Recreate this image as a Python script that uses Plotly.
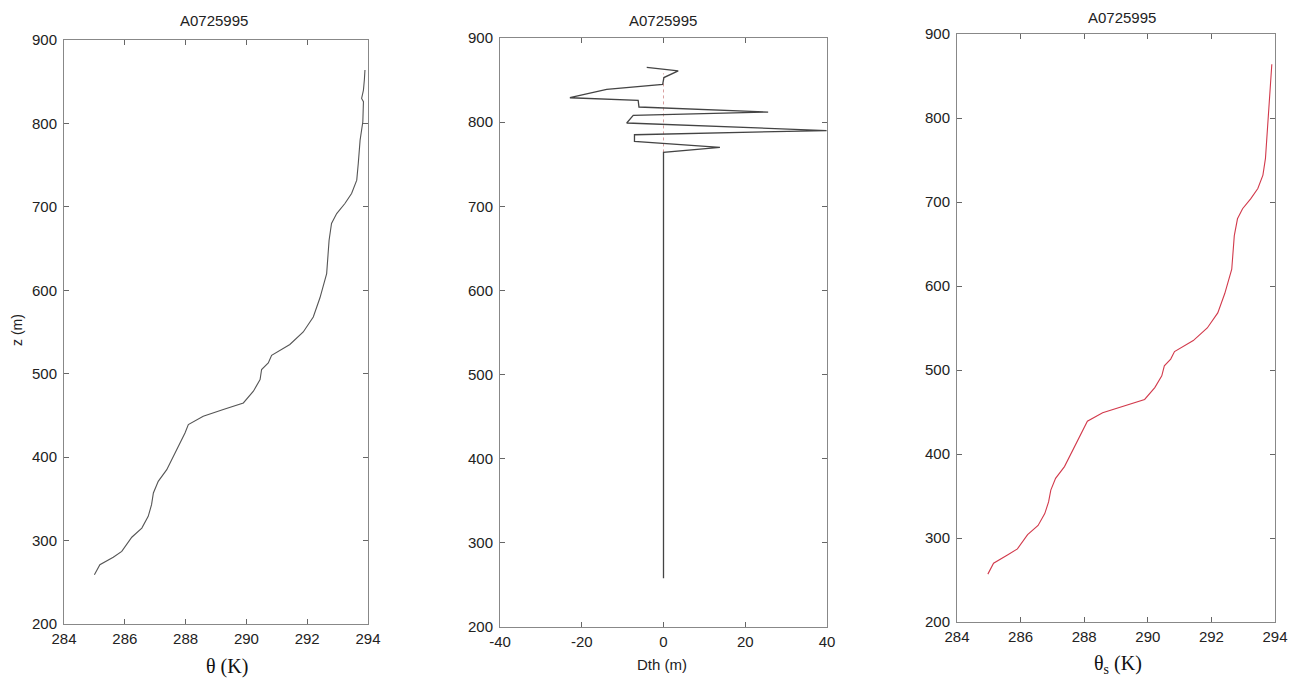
import plotly.graph_objects as go

# ---- data ----
title_text = "A0725995"

theta_K = [285.0, 285.18, 285.62, 285.9, 286.23, 286.56, 286.77, 286.88, 286.94, 287.1,
           287.38, 287.71, 287.98, 288.09, 288.58, 289.24, 289.9, 290.23, 290.45, 290.5,
           290.72, 290.83, 291.1, 291.43, 291.87, 292.2, 292.42, 292.64, 292.72, 292.8,
           292.97, 293.24, 293.46, 293.63, 293.68, 293.74, 293.83, 293.85, 293.79, 293.85,
           293.88, 293.9]
theta_z = [259, 271, 280, 287, 304, 315, 329, 343, 357, 371,
           385, 409, 429, 439, 449, 457, 465, 479, 493, 505,
           513, 522, 528, 535, 550, 568, 591, 620, 660, 680,
           692, 704, 716, 732, 752, 780, 802, 826, 830, 840,
           852, 864]

dth_m = [-4.1, 3.6, 0.1, -0.2, -13.9, -22.9, -6.2, -6.0, 25.6, -7.4,
         -9.0, 39.9, -7.1, -7.1, 13.8, 0.0, 0.0]
dth_z = [865, 861, 853, 845, 839, 829, 826, 818, 812, 808,
         799, 790, 785, 777, 770, 764, 258]
ref_x = [0, 0]
ref_z = [764, 858]

thetas_K = [284.97, 285.15, 285.6, 285.9, 286.22, 286.55, 286.76, 286.88, 286.95, 287.1,
            287.38, 287.71, 287.98, 288.1, 288.58, 289.24, 289.9, 290.22, 290.44, 290.52,
            290.72, 290.84, 291.1, 291.43, 291.87, 292.2, 292.42, 292.64, 292.72, 292.82,
            292.98, 293.24, 293.46, 293.62, 293.7, 293.75, 293.8, 293.85, 293.9]
thetas_z = [257, 270, 280, 287, 304, 315, 329, 343, 357, 371,
            385, 409, 429, 439, 449, 457, 465, 479, 493, 505,
            513, 522, 528, 535, 550, 568, 591, 620, 660, 680,
            692, 704, 716, 732, 752, 780, 805, 835, 864]

x_ticks_theta = [284, 286, 288, 290, 292, 294]
x_ticks_dth = [-40, -20, 0, 20, 40]
x_ticklabels_dth = ["-40", "-20", "0", "20", "40"]
z_ticks = [200, 300, 400, 500, 600, 700, 800, 900]

# page body has an 8px margin; figure is sized to fit inside it
OFF = 8
W, H = 1298 - 2 * OFF, 688 - 2 * OFF

def px(x):
    return (x - OFF) / W

def py(y):
    return 1 - (y - OFF) / H

def dx(a, b):
    return [px(a), px(b)]

def dy(top, bot):
    return [py(bot), py(top)]

fig = go.Figure()
fig.add_trace(go.Scatter(x=theta_K, y=theta_z, mode="lines",
                         line=dict(color="#555555", width=1.1),
                         xaxis="x", yaxis="y", showlegend=False))
fig.add_trace(go.Scatter(x=ref_x, y=ref_z, mode="lines",
                         line=dict(color="#d9a0a0", width=1, dash="dot"),
                         xaxis="x2", yaxis="y2", showlegend=False))
fig.add_trace(go.Scatter(x=dth_m, y=dth_z, mode="lines",
                         line=dict(color="#444444", width=1.3),
                         xaxis="x2", yaxis="y2", showlegend=False))
fig.add_trace(go.Scatter(x=thetas_K, y=thetas_z, mode="lines",
                         line=dict(color="#d23a4c", width=1.1),
                         xaxis="x3", yaxis="y3", showlegend=False))

tickfont = dict(family="Arial, Liberation Sans, sans-serif", size=15, color="#222222")
common = dict(showgrid=False, zeroline=False, showline=True, linecolor="#888888",
              linewidth=1, mirror="ticks", ticks="inside", ticklen=5,
              tickcolor="#666666", tickfont=tickfont, automargin=False)

fig.update_layout(
    width=W, height=H, margin=dict(l=0, r=0, t=0, b=0, autoexpand=False),
    paper_bgcolor="white", plot_bgcolor="white",
    xaxis=dict(domain=dx(64, 368), range=[284, 294], tickvals=x_ticks_theta,
               anchor="y", ticklabelstandoff=1, **common),
    yaxis=dict(domain=dy(40, 624), range=[200, 900], tickvals=z_ticks,
               anchor="x", ticklabelstandoff=3, **common),
    xaxis2=dict(domain=dx(500, 827), range=[-40, 40], tickvals=x_ticks_dth,
                ticktext=x_ticklabels_dth,
                anchor="y2", ticklabelstandoff=1, **common),
    yaxis2=dict(domain=dy(38, 627), range=[200, 900], tickvals=z_ticks,
                anchor="x2", ticklabelstandoff=3, **common),
    xaxis3=dict(domain=dx(957, 1275), range=[284, 294], tickvals=x_ticks_theta,
                anchor="y3", ticklabelstandoff=1, **common),
    yaxis3=dict(domain=dy(34, 622), range=[200, 900], tickvals=z_ticks,
                anchor="x3", ticklabelstandoff=3, **common),
)

titlefont = dict(family="Arial, Liberation Sans, sans-serif", size=15, color="#222222")
serif = dict(family="Liberation Serif, Times New Roman, serif", size=20, color="#111111")

def ann(text, x, y, font, angle=0):
    fig.add_annotation(text=text, x=px(x), y=py(y), xref="paper", yref="paper",
                       showarrow=False, font=font, textangle=angle,
                       xanchor="center", yanchor="middle")

ann(title_text, 214, 20, titlefont)
ann(title_text, 663, 20, titlefont)
ann(title_text, 1122, 18, titlefont)
ann("z (m)", 17, 330, dict(family="Arial, Liberation Sans, sans-serif", size=14, color="#222222"), -90)
ann("θ (K)", 227, 666, serif)
ann("Dth (m)", 662, 664, dict(family="Arial, Liberation Sans, sans-serif", size=15, color="#222222"))
ann("θ<sub>s</sub> (K)", 1118, 664, serif)

fig.write_html("out.html")
